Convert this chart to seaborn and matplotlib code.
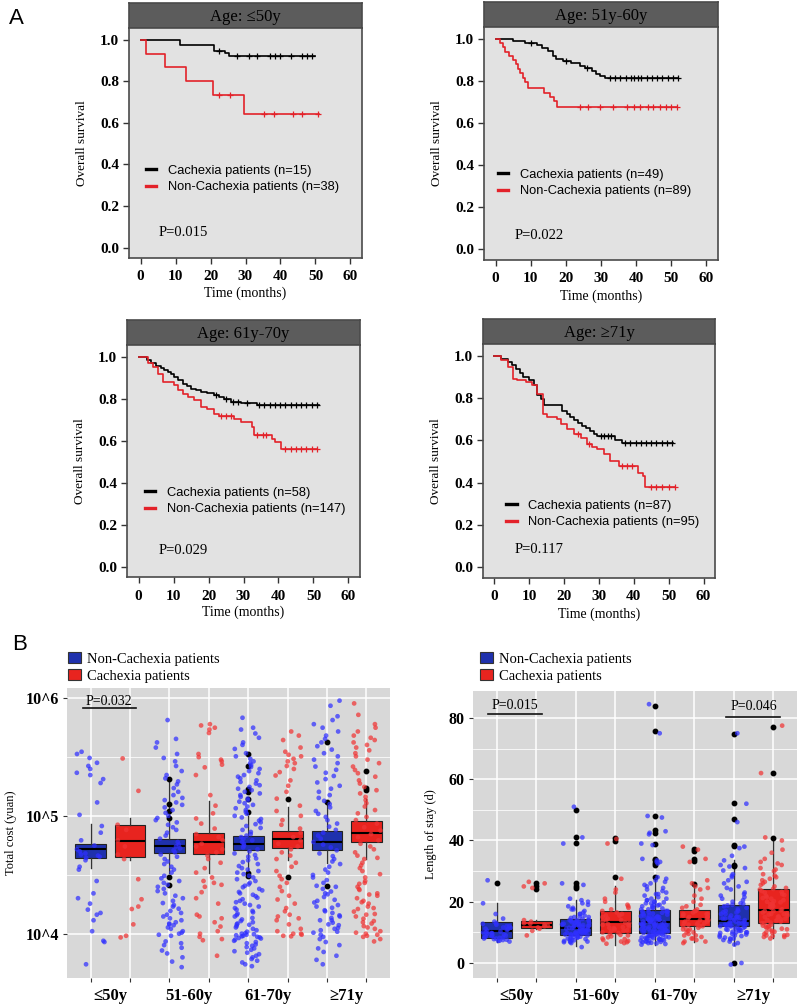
import numpy as np
import pandas as pd
import matplotlib
matplotlib.use("Agg")
import matplotlib.pyplot as plt
import seaborn as sns
from matplotlib.lines import Line2D
from matplotlib.patches import Patch
from matplotlib.ticker import FixedLocator, NullFormatter

# =========================
# CONFIG
# =========================
W, H = 798, 1008
SERIF = "Liberation Serif"
SANS = "Liberation Sans"
plt.rcParams["font.family"] = SERIF

KM_BLACK = "#000000"
KM_RED = "#e3222a"
BLUE_PT = "#2f2fff"
RED_PT = "#f03434"
BLUE_BOX = "#1f31ad"
RED_BOX = "#e8241f"

NON = "Non-Cachexia patients"
CAC = "Cachexia patients"

# =========================
# DATA - A: Kaplan-Meier (time in months, survival)
# =========================
km50_cac_t = [0, 11.3, 21.0, 24.2, 25.3, 49.8]
km50_cac_s = [1.0, 0.974, 0.947, 0.934, 0.921, 0.921]
km50_cac_cens = [22.5, 27.6, 30.9, 33.3, 37.1, 38.5, 40.0, 42.9, 46.2, 47.5, 49.0]
km50_non_t = [0, 1.6, 7.1, 12.9, 20.7, 29.5, 51.0]
km50_non_s = [1.0, 0.933, 0.867, 0.80, 0.733, 0.642, 0.642]
km50_non_cens = [22.4, 25.7, 35.2, 38.1, 43.6, 46.2, 50.7]

km60_cac_t = [0, 5.0, 8.3, 11.7, 13.1, 15.0, 16.4, 17.3, 19.2, 21.6, 24.0, 25.4, 27.3, 28.7, 29.7, 31.1, 52.0]
km60_cac_s = [1.0, 0.99, 0.98, 0.97, 0.955, 0.94, 0.92, 0.905, 0.895, 0.885, 0.87, 0.86, 0.845, 0.832, 0.822, 0.813, 0.813]
km60_cac_cens = [10, 20, 26, 32.5, 34, 35.5, 37, 38.5, 39.5, 40.5, 41.5, 43, 44.5, 46, 47.5, 49, 50.5, 52]
km60_non_t = [0, 1.2, 2.0, 2.7, 3.8, 5.0, 5.8, 6.4, 7.0, 7.7, 8.5, 9.3, 13.8, 15.4, 16.6, 17.4, 51.5]
km60_non_s = [1.0, 0.98, 0.959, 0.939, 0.918, 0.898, 0.878, 0.857, 0.837, 0.816, 0.796, 0.765, 0.745, 0.724, 0.704, 0.674, 0.674]
km60_non_cens = [24.0, 26.4, 29.7, 33.5, 37.3, 39.5, 41.0, 43.4, 44.8, 46.7, 48.6, 50.0, 51.5]

km70_cac_t = [0, 2.5, 3.6, 5.0, 6.4, 7.3, 8.3, 9.3, 10.2, 11.4, 12.6, 13.8, 15.0, 16.5, 17.8, 19.5, 21.6, 23.0, 24.5, 26.4, 29.2, 33.9, 51.5]
km70_cac_s = [1.0, 0.984, 0.968, 0.956, 0.944, 0.936, 0.928, 0.916, 0.904, 0.888, 0.872, 0.86, 0.848, 0.84, 0.833, 0.825, 0.817, 0.808, 0.80, 0.785, 0.778, 0.769, 0.769]
km70_cac_cens = [22, 25, 27, 28.5, 31, 34.5, 36, 37.5, 39, 40.5, 42, 43.5, 45, 46.5, 48, 49.5, 51]
km70_non_t = [0, 2.7, 4.0, 5.5, 6.9, 10.2, 11.2, 12.6, 14.0, 15.9, 17.8, 19.7, 21.6, 23.0, 27.3, 29.2, 32.5, 33.0, 38.2, 39.1, 40.6, 51.0]
km70_non_s = [1.0, 0.968, 0.952, 0.92, 0.88, 0.864, 0.84, 0.824, 0.809, 0.793, 0.761, 0.753, 0.729, 0.718, 0.705, 0.689, 0.665, 0.628, 0.609, 0.593, 0.558, 0.558]
km70_non_cens = [23.5, 25, 26.5, 34, 35.5, 36.5, 42, 43.5, 45, 46.5, 48, 49.5, 51]

km71_cac_t = [0, 1.9, 3.8, 5.0, 6.2, 7.2, 8.1, 10.0, 11.4, 12.3, 13.3, 14.2, 19.5, 20.9, 21.8, 22.8, 24.0, 25.2, 26.4, 27.5, 28.5, 29.4, 34.7, 36.6, 51.3]
km71_cac_s = [1.0, 0.987, 0.971, 0.955, 0.94, 0.92, 0.90, 0.884, 0.86, 0.813, 0.797, 0.768, 0.741, 0.725, 0.71, 0.695, 0.682, 0.67, 0.658, 0.646, 0.632, 0.619, 0.603, 0.587, 0.587]
km71_cac_cens = [30.5, 31.5, 32.5, 33.5, 37.5, 39, 40.5, 42, 43.5, 45, 46.5, 48, 49.5, 51]
km71_non_t = [0, 1.9, 3.8, 5.2, 6.6, 9.0, 10.9, 12.3, 13.8, 15.2, 18.0, 19.0, 20.9, 22.8, 24.7, 26.6, 28.0, 29.4, 31.3, 33.2, 35.6, 41.3, 42.7, 43.2, 51.8]
km71_non_s = [1.0, 0.979, 0.948, 0.892, 0.884, 0.876, 0.86, 0.82, 0.725, 0.71, 0.702, 0.678, 0.654, 0.63, 0.614, 0.583, 0.571, 0.559, 0.535, 0.503, 0.479, 0.448, 0.432, 0.381, 0.381]
km71_non_cens = [24, 27, 36.5, 38, 39.5, 45, 46.5, 48, 50, 51.8]

km_titles = ["Age: \u226450y", "Age: 51y-60y", "Age: 61y-70y", "Age: \u226571y"]
km_n_cac = [15, 49, 58, 87]
km_n_non = [38, 89, 147, 95]
km_pvals = ["P=0.015", "P=0.022", "P=0.029", "P=0.117"]

# =========================
# DATA - B: total cost (thousand yuan) and length of stay (days)
# order of slots: non<=50, cac<=50, non51-60, cac51-60, non61-70, cac61-70, non>=71, cac>=71
# =========================
age_labels = ["\u226450y", "51-60y", "61-70y", "\u226571y"]

cost_non_50 = [350, 335, 310, 282, 265, 250, 232, 222, 205, 190, 130, 102, 82, 72, 62, 56, 52, 50, 48, 47, 46, 45, 44, 42,
               37, 35, 28, 22, 20, 18, 16, 15, 14.5, 13, 10.5, 8.7, 8.5, 5.5]
cost_cac_50 = [307, 163, 84, 76, 62, 55, 47, 43, 29, 19.6, 17, 16.2, 12, 9.6, 9.3]
cost_non_60 = [650, 450, 420, 380, 335, 310, 290, 265, 240, 222, 208, 196, 185, 172, 160, 150, 142, 136, 130, 124, 118, 112,
               106, 100, 96, 92, 88, 84, 80, 76, 72, 68, 64, 60, 57, 55, 53, 51, 49, 47, 45, 43, 41, 39, 37, 35, 33, 31,
               29.5, 28, 27, 26, 25, 24, 23, 22, 21, 20, 19, 18.2, 17.5, 17, 16.3, 15.6, 15, 14.5, 14, 13.5, 13, 12.5, 12.2,
               12, 11.8, 11.3, 11, 10.5, 10.2, 10, 9.8, 9.6, 8.6, 8.3, 8, 7.6, 7.2, 6.8, 6.3, 5.8, 5.2]
cost_cac_60 = [600, 585, 560, 540, 505, 335, 315, 300, 290, 272, 258, 222, 150, 122, 105, 95, 86, 78, 70, 66, 62, 58, 55, 52,
               49, 46, 43, 40, 36, 33, 30, 28, 27, 26, 25, 22.5, 20, 18, 14.5, 13.5, 12.5, 11.5, 10.5, 10, 9.4, 9, 8.8, 6.5, 14]
cost_non_70 = [680, 560, 540, 500, 460, 420, 400, 370, 340, 320, 305, 290, 280, 270, 260, 250, 240, 230, 222, 215, 208, 200,
               194, 188, 182, 176, 170, 165, 160, 155, 150, 145, 140, 136, 132, 128, 124, 120, 116, 112, 108, 104, 100, 97,
               94, 91, 88, 85, 82, 79, 76, 73, 70, 68, 66, 64, 62, 60, 58, 56, 54, 52, 50, 48, 46.5, 45, 43.5, 42, 40.5, 39,
               37.5, 36, 35, 34, 33, 32, 31, 30, 29, 28, 27, 26.2, 25.5, 24.8, 24, 23.3, 22.6, 22, 21.4, 20.8, 20.2, 19.6,
               19, 18.5, 18, 17.5, 17, 16.5, 16, 15.6, 15.2, 14.8, 14.4, 14, 13.6, 13.2, 12.8, 12.5, 12.2, 11.9, 11.6, 11.3,
               11, 10.7, 10.4, 10.1, 9.9, 9.7, 9.5, 9.3, 9.1, 8.9, 8.7, 8.5, 8.3, 8.1, 7.9, 7.7, 7.5, 7.3, 7.1, 6.9, 6.7,
               6.5, 6.3, 6.1, 5.9, 5.7, 5.5, 5.3, 9.4, 9.6, 9.2, 10, 9.8, 12]
cost_cac_70 = [520, 480, 440, 380, 350, 330, 320, 305, 290, 280, 265, 250, 235, 220, 200, 180, 160, 140, 122, 110, 100, 92,
               84, 78, 72, 66, 62, 58, 55, 52, 49, 46, 43, 40, 37, 34, 31, 29, 27, 25, 23, 21, 19.5, 18, 16.5, 15.5, 14.5,
               14, 13.5, 13, 12, 11, 10.5, 10, 10, 9.8, 9.6, 9.5]
cost_non_71 = [950, 860, 700, 650, 600, 560, 520, 480, 450, 420, 390, 365, 340, 320, 300, 280, 262, 246, 232, 218, 205, 192,
               180, 170, 160, 150, 142, 134, 126, 118, 110, 104, 98, 92, 86, 81, 76, 72, 68, 64, 60, 57, 54, 51, 48, 45.5,
               43, 41, 39, 37, 35, 33, 31.5, 30, 28.5, 27, 25.5, 24, 22.8, 21.6, 20.5, 19.4, 18.4, 17.5, 16.6, 15.8, 15,
               14.3, 13.6, 13, 12.4, 11.8, 11.2, 10.7, 10.2, 9.8, 9.4, 9, 8.5, 8, 7.5, 7, 6.5, 6, 5.5, 12, 11, 10.4, 13, 14,
               15.5, 17, 19, 22, 25]
cost_cac_71 = [900, 720, 600, 560, 520, 480, 460, 440, 420, 400, 380, 360, 340, 320, 300, 280, 262, 245, 230, 215, 200, 188,
               176, 165, 155, 145, 136, 128, 120, 112, 105, 98, 92, 86, 80, 75, 70, 66, 62, 58, 55, 52, 49, 46, 43, 40, 38,
               36, 34, 32, 30, 28, 26.5, 25, 23.5, 22, 21, 20, 19, 18, 17, 16.2, 15.4, 14.7, 14, 13.4, 12.8, 12.2, 11.6, 11,
               10.5, 10, 9.8, 9.6, 9.4, 9, 8.6, 10.2, 11.3, 12.5, 14.5, 16.5, 18.5, 21.5, 24, 27, 44]

cost_q1 = [43.5, 45, 48, 47, 51, 53, 51, 60]
cost_med = [52, 61, 55.6, 60, 58, 63, 60, 72]
cost_q3 = [57.5, 83, 63, 72, 68, 75, 75, 91]
cost_wlo = [36, 42, 33, 33, 34, 42.5, 40, 43]
cost_whi = [85, 95, 200, 134, 100, 118, 130, 138]
cost_out = [[], [], [205, 125, 110, 95, 30, 26], [], [335, 265, 170, 160, 140, 107, 33, 31], [138, 30], [425, 131, 25.5],
            [241, 172, 165]]

los_non_50 = [27, 19.5, 16, 14.5, 13.5, 13, 12.8, 12.5, 12, 12, 11.6, 11.2, 11, 10.8, 10.5, 10.3, 10, 10, 9.8, 9.5, 9.3, 9,
              9, 8.8, 8.6, 8.5, 8.3, 8.2, 8, 8, 7.8, 7.6, 7.5, 7.3, 7.2, 7, 11.5, 9.7]
los_cac_50 = [26.5, 26, 25, 24.5, 14, 13.5, 13, 12.8, 12.5, 12.2, 12, 11.6, 11.2, 10.5, 9]
los_non_60 = [51, 41, 39, 26, 25.5, 21, 20.5, 19.5, 19, 18, 17.5, 17, 16.5, 16, 15.5, 15.2, 15, 14.7, 14.4, 14.1, 13.8,
              13.5, 13.3, 13, 12.8, 12.6, 12.4, 12.2, 12, 11.8, 11.6, 11.4, 11.2, 11, 10.8, 10.6, 10.4, 10.2, 10, 9.8, 9.6,
              9.4, 9.2, 9, 8.8, 8.6, 8.4, 8.2, 8, 7.8, 7.6, 7.4, 7.2, 7, 6.8, 6.5, 5.2, 13, 12.5, 11.5, 11, 10.5, 10, 9.5,
              9, 8.5, 14, 13.5, 12, 11, 10, 9.8, 16, 15, 14, 12.2, 11.3, 10.3, 9.3, 8.3, 7.5, 7, 6.8, 20, 18.5, 17.5, 13.7,
              12.7, 10.7]
los_cac_60 = [40.5, 39, 27.5, 24, 23, 21, 20, 19, 18.5, 18, 17.5, 17, 16.5, 16, 15.5, 15, 14.5, 14, 13.5, 13.2, 13, 12.7,
              12.4, 12, 11.7, 11.4, 11, 10.7, 10.4, 10, 9.8, 9.5, 9.2, 9, 8.7, 8.4, 8, 7.8, 7.5, 7.2, 7, 6.8, 6.5, 6.3, 14,
              12.5, 11.5, 10.5, 15.5]
los_non_70 = [84.5, 75, 48, 47.5, 43, 42.5, 42, 39, 38.5, 34, 33.5, 33, 33, 32.5, 28, 27.5, 27, 26.5, 26, 25.5, 25, 24.5,
              24, 23.5, 23, 22.5, 22, 21.5, 21, 21, 20.5, 20.5, 20, 20, 19.5, 19.5, 19, 19, 18.5, 18.5, 18, 18, 17.5, 17.5,
              17, 17, 16.7, 16.4, 16.1, 15.8, 15.5, 15.2, 15, 14.8, 14.6, 14.4, 14.2, 14, 13.8, 13.6, 13.4, 13.2, 13,
              12.8, 12.6, 12.4, 12.2, 12, 11.8, 11.6, 11.4, 11.2, 11, 10.8, 10.6, 10.4, 10.2, 10, 9.8, 9.6, 9.4, 9.2, 9,
              8.8, 8.6, 8.4, 8.2, 8, 7.8, 7.6, 7.4, 7.2, 7, 6.8, 6.6, 6.4, 6.2, 6, 16, 15, 14, 13, 12, 11, 10, 9, 8, 7.5,
              15.5, 14.5, 13.5, 12.5, 11.5, 10.5, 9.5, 8.5, 7.7, 16.8, 14.3, 12.3, 10.3, 8.3, 7.3, 17.8, 13.3, 11.3, 9.3,
              8.1, 6.9, 18.8, 15.3, 12.9, 10.9, 9.1, 7.9, 22.5, 19.8, 16.6, 14.1, 11.9, 9.9, 8.9, 7.1, 6.5, 10.1]
los_cac_70 = [38, 37, 34, 33, 27, 26, 25, 24.5, 24, 22, 21, 20, 19, 18.5, 18, 17.5, 17, 16.5, 16, 16, 15.5, 15, 15, 14.5,
              14.5, 14, 14, 13.5, 13.5, 13, 13, 12.5, 12.5, 12, 12, 11.5, 11, 11, 10.5, 10, 10, 9.5, 9, 9, 8.5, 8, 8, 7.5,
              7, 7, 6.5, 17, 15, 13, 12, 16, 14, 11]
los_non_71 = [75, 52, 46, 38, 37.5, 32, 31.5, 31, 29, 28, 27, 26, 25, 24, 23, 22, 21.5, 21, 20.5, 20, 19.5, 19, 18.5, 18,
              17.5, 17, 16.5, 16, 15.5, 15, 15, 14.5, 14.5, 14, 14, 13.5, 13.5, 13, 13, 12.5, 12.5, 12, 12, 11.5, 11.5,
              11, 11, 10.5, 10.5, 10, 10, 9.5, 9, 9, 8.5, 8, 8, 7.5, 7, 6.5, 6, -0.5, 0, 16, 14, 13, 12, 11, 10, 17, 15,
              13.8, 12.8, 11.8, 10.8, 9.8, 18.8, 14.8, 12.2, 10.2, 9.3, 8.3, 7.7, 19.3, 16.6, 13.3, 11.3, 8.8, 22.5,
              24.5, 26.5, 28.5, 30.2, 33.5, 35]
los_cac_71 = [77.5, 62, 41, 40, 37, 34, 33, 32.5, 32, 31, 30, 29, 28, 27, 26, 25, 24.5, 24, 23.5, 23, 22.5, 22, 21.5, 21,
              20.5, 20, 19.5, 19, 18.5, 18, 17.5, 17, 17, 16.5, 16, 16, 15.5, 15, 15, 14.5, 14, 14, 13.5, 13, 13, 12.5, 12,
              12, 11.5, 11, 11, 10.5, 10, 10, 9.5, 9, 9, 8.5, 8.5, 8, 30.5, 28.5, 26.5, 25.5, 23.2, 21.2, 19.2, 17.2,
              15.2, 13.2, 11.2, 9.2, 8.8, 22.2, 20.2, 18.2, 16.2, 14.2, 12.2, 10.2, 27.5, 24.2, 19.8, 15.8, 13.8, 11.8, 36]

los_q1 = [8.2, 11.4, 9.3, 9.8, 9.8, 12.0, 12.2, 13.1]
los_med = [10.3, 12.5, 11.4, 13.3, 13.3, 14.5, 13.6, 17.2]
los_q3 = [13.3, 13.8, 14.4, 16.9, 17.2, 17.2, 19.0, 24.2]
los_wlo = [7.0, 11.0, 5.5, 6.0, 6.0, 7.0, 6.0, 8.2]
los_whi = [19.6, 14.0, 20.7, 25.0, 27.8, 25.6, 33.7, 40.8]
los_out = [[26.1], [26.1, 25, 24.2], [50, 41, 39.2, 26.1, 25, 24.5], [40.8, 39.7, 28.1],
           [84, 75.9, 47.9, 43.3, 42.4, 39, 34, 33.5, 32.7, 32.1, 28.1], [37.2, 36.7, 34, 33.2, 25.8],
           [74.9, 52.2, 47, 38.6, 38.1, 32.1, 31.6, 0], [77.1, 62, 40.8]]

SLOTS = [f"s{i}" for i in range(8)]
SLOT_STATUS = [NON, CAC] * 4


# =========================
# HELPERS
# =========================
fig = plt.figure(figsize=(W / 100, H / 100), dpi=100)


def px_axes(x0, y0, x1, y1):
    return fig.add_axes([x0 / W, 1 - y1 / H, (x1 - x0) / W, (y1 - y0) / H])


def step_value(times, surv, t):
    idx = np.searchsorted(np.asarray(times), t, side="right") - 1
    return np.asarray(surv)[idx]


def km_panel(rect, title, curves, n_cac, n_non, pval, leg_xy, p_xy):
    x0, y0, x1, y1 = rect
    hdr = px_axes(x0, y0 - 25, x1, y0)
    hdr.set_facecolor("#5c5c5c")
    hdr.set_xticks([])
    hdr.set_yticks([])
    for sp in hdr.spines.values():
        sp.set_color("#4a4a4a")
        sp.set_linewidth(1.2)
    hdr.text(0.5, 0.45, title, ha="center", va="center", fontsize=12, color="black")

    ax = px_axes(x0, y0, x1, y1)
    ax.set_facecolor("#e2e2e2")
    for (t, s, cens, col) in curves:
        sns.lineplot(x=t, y=s, ax=ax, color=col, drawstyle="steps-post", linewidth=1.2,
                     estimator=None, errorbar=None)
        sns.scatterplot(x=cens, y=step_value(t, s, cens), ax=ax, marker="+", s=18, color=col,
                        linewidth=0.9, zorder=4)
    ax.set_xlim(-3.3, 63.3)
    ax.set_ylim(-0.05, 1.056)
    ax.set_xticks(range(0, 61, 10))
    ax.set_yticks(np.arange(0, 1.01, 0.2))
    ax.set_yticklabels([f"{v:.1f}" for v in np.arange(0, 1.01, 0.2)])
    ax.tick_params(length=4, width=1, color="#333333", labelsize=11, pad=3)
    ax.tick_params(axis="x", pad=5)
    for lab in ax.get_xticklabels() + ax.get_yticklabels():
        lab.set_fontweight("bold")
    for sp in ax.spines.values():
        sp.set_color("#4a4a4a")
        sp.set_linewidth(1.2)
    ax.set_xlabel("Time (months)", fontsize=10)
    ax.set_ylabel("Overall survival", fontsize=9.5)
    ax.xaxis.set_label_coords(0.5, -0.125)
    ax.yaxis.set_label_coords(-0.175, 0.5)

    handles = [Line2D([], [], color=KM_BLACK, lw=2.4), Line2D([], [], color=KM_RED, lw=2.4)]
    labels = [f"Cachexia patients (n={n_cac})", f"Non-Cachexia patients (n={n_non})"]
    ax.legend(handles, labels, loc="center left", bbox_to_anchor=leg_xy, frameon=False,
              prop={"family": SANS, "size": 9.3}, handlelength=0.8, handletextpad=0.9,
              labelspacing=0.35, borderpad=0, borderaxespad=0)
    ax.text(p_xy[0], p_xy[1], pval, ha="left", va="center", fontsize=10.5)
    return ax


def long_frame(groups, scale=1.0):
    rows = []
    for i, vals in enumerate(groups):
        for v in vals:
            rows.append((SLOTS[i], SLOT_STATUS[i], v * scale))
    return pd.DataFrame(rows, columns=["slot", "status", "value"])


def box_panel(ax, df, q1, med, q3, wlo, whi, outs, scale=1.0):
    np.random.seed(11)
    sns.stripplot(data=df, x="slot", y="value", hue="status", order=SLOTS, hue_order=[NON, CAC],
                  palette={NON: BLUE_PT, CAC: RED_PT}, jitter=0.36, size=3.4, alpha=0.72,
                  linewidth=0, legend=False, ax=ax, zorder=3)
    stats = []
    for i in range(8):
        stats.append(dict(med=med[i] * scale, q1=q1[i] * scale, q3=q3[i] * scale,
                          whislo=wlo[i] * scale, whishi=whi[i] * scale,
                          fliers=np.asarray(outs[i], dtype=float) * scale))
    bp = ax.bxp(stats, positions=range(8), widths=0.78, patch_artist=True, manage_ticks=False,
                showcaps=False, zorder=2,
                boxprops=dict(edgecolor="#222222", linewidth=0.8),
                medianprops=dict(color="black", linewidth=1.5),
                whiskerprops=dict(color="#333333", linewidth=1.0),
                flierprops=dict(marker="o", markerfacecolor="black", markeredgecolor="black",
                                markersize=3.2))
    for patch, st in zip(bp["boxes"], SLOT_STATUS):
        patch.set_facecolor(BLUE_BOX if st == NON else RED_BOX)

    ax.set_facecolor("#d8d8d8")
    for sp in ax.spines.values():
        sp.set_visible(False)
    ax.set_xlim(-0.6, 7.6)
    ax.set_xticks(range(8))
    ax.set_xticklabels([""] * 8)
    ax.xaxis.set_minor_locator(FixedLocator([0.5, 2.5, 4.5, 6.5]))
    ax.set_xticklabels(age_labels, minor=True)
    ax.tick_params(axis="x", which="major", length=3, color="#333333")
    ax.tick_params(axis="x", which="minor", length=0, labelsize=12, pad=7)
    ax.tick_params(axis="y", which="major", length=3, color="#333333", labelsize=11.5, pad=3)
    ax.tick_params(axis="y", which="minor", length=0)
    for lab in ax.get_xticklabels(minor=True) + ax.get_yticklabels():
        lab.set_fontweight("bold")
    ax.set_axisbelow(True)
    ax.grid(which="major", color="white", linewidth=1.1)
    ax.grid(which="minor", axis="y", color="white", linewidth=0.55)
    ax.set_xlabel("")
    return ax


# =========================
# PANEL A
# =========================
km_rects = [(129, 28, 362, 258), (484, 27, 718, 260), (127, 345, 360, 577), (483, 344, 715, 578)]
km_curves = [
    [(km50_cac_t, km50_cac_s, km50_cac_cens, KM_BLACK), (km50_non_t, km50_non_s, km50_non_cens, KM_RED)],
    [(km60_cac_t, km60_cac_s, km60_cac_cens, KM_BLACK), (km60_non_t, km60_non_s, km60_non_cens, KM_RED)],
    [(km70_cac_t, km70_cac_s, km70_cac_cens, KM_BLACK), (km70_non_t, km70_non_s, km70_non_cens, KM_RED)],
    [(km71_cac_t, km71_cac_s, km71_cac_cens, KM_BLACK), (km71_non_t, km71_non_s, km71_non_cens, KM_RED)],
]
leg_pos = [(0.072, 0.343), (0.06, 0.331), (0.077, 0.328), (0.10, 0.273)]
p_pos = [(5.2, 0.072), (5.5, 0.068), (5.7, 0.075), (5.7, 0.083)]

for i in range(4):
    km_panel(km_rects[i], km_titles[i], km_curves[i], km_n_cac[i], km_n_non[i], km_pvals[i],
             leg_pos[i], p_pos[i])

# =========================
# PANEL B
# =========================
cost_df = long_frame([cost_non_50, cost_cac_50, cost_non_60, cost_cac_60,
                      cost_non_70, cost_cac_70, cost_non_71, cost_cac_71], scale=1000)
los_df = long_frame([los_non_50, los_cac_50, los_non_60, los_cac_60,
                     los_non_70, los_cac_70, los_non_71, los_cac_71])

axc = px_axes(67, 688, 390, 978)
box_panel(axc, cost_df, cost_q1, cost_med, cost_q3, cost_wlo, cost_whi, cost_out, scale=1000)
axc.set_yscale("log")
axc.set_ylim(10 ** 3.624, 10 ** 6.085)
axc.set_yticks([1e4, 1e5, 1e6])
axc.set_yticklabels(["10^4", "10^5", "10^6"])
axc.yaxis.set_minor_locator(FixedLocator([10 ** 4.5, 10 ** 5.5]))
axc.yaxis.set_minor_formatter(NullFormatter())
for lab in axc.get_yticklabels():
    lab.set_fontweight("bold")
axc.grid(which="minor", axis="y", color="white", linewidth=0.55)
axc.tick_params(axis="y", which="minor", length=0)
axc.set_ylabel("Total cost (yuan)", fontsize=9)
axc.yaxis.set_label_coords(-0.155, 0.5)
axc.plot([-0.2, 1.15], [8.2e5, 8.2e5], color="#111111", linewidth=1.2)
axc.text(0.47, 9.4e5, "P=0.032", ha="center", va="center", fontsize=10)

axl = px_axes(473, 691, 797, 978)
box_panel(axl, los_df, los_q1, los_med, los_q3, los_wlo, los_whi, los_out)
axl.set_ylim(-4.9, 88.8)
axl.set_yticks([0, 20, 40, 60, 80])
axl.set_yticklabels(["0", "20", "40", "60", "80"])
axl.yaxis.set_minor_locator(FixedLocator([10, 30, 50, 70]))
axl.yaxis.set_minor_formatter(NullFormatter())
for lab in axl.get_yticklabels():
    lab.set_fontweight("bold")
axl.grid(which="minor", axis="y", color="white", linewidth=0.55)
axl.tick_params(axis="y", which="minor", length=0)
axl.set_ylabel("Length of stay (d)", fontsize=9)
axl.yaxis.set_label_coords(-0.111, 0.5)
axl.plot([-0.23, 1.15], [81.3, 81.3], color="#111111", linewidth=1.2)
axl.text(0.46, 84.0, "P=0.015", ha="center", va="center", fontsize=10)
axl.plot([5.8, 7.18], [80.2, 80.2], color="#111111", linewidth=1.2)
axl.text(6.5, 83.8, "P=0.046", ha="center", va="center", fontsize=10)

b_handles = [Patch(facecolor=BLUE_BOX, edgecolor="#333333", linewidth=0.8),
             Patch(facecolor=RED_BOX, edgecolor="#333333", linewidth=0.8)]
for ax_, xy in [(axc, (0.003, 1.071)), (axl, (0.022, 1.082))]:
    ax_.legend(b_handles, [NON, CAC], loc="center left", bbox_to_anchor=xy, frameon=False,
               fontsize=10.5, handlelength=0.9, handleheight=0.8, handletextpad=0.4,
               labelspacing=0.25, borderpad=0, borderaxespad=0)

# panel letters
fig.text(16.5 / W, 1 - 18.5 / H, "A", ha="center", va="center", fontsize=16, family=SANS)
fig.text(20 / W, 1 - 644 / H, "B", ha="center", va="center", fontsize=16, family=SANS)

fig.savefig("out.png", dpi=100)
plt.close(fig)
